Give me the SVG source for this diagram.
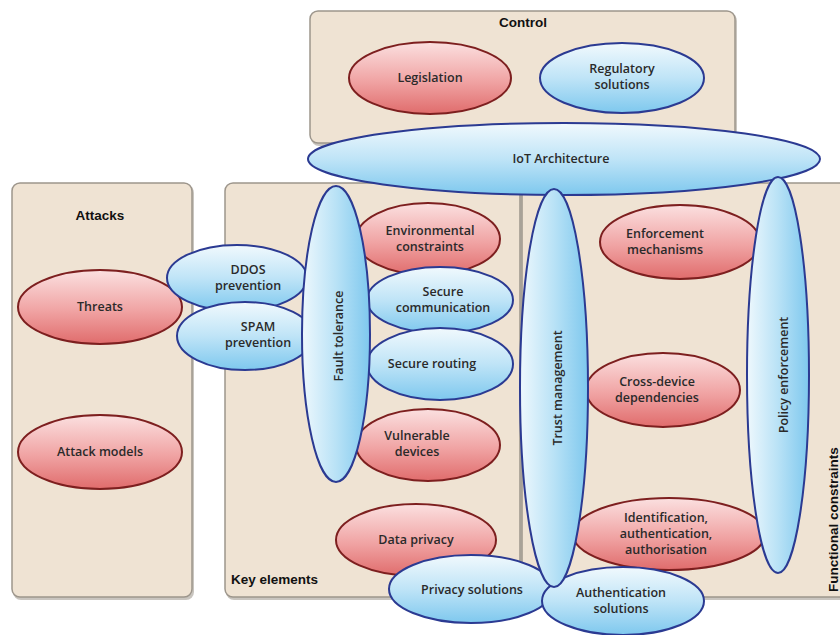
<svg xmlns="http://www.w3.org/2000/svg" width="840" height="635" viewBox="0 0 840 635">
<defs>
<linearGradient id="gRed" x1="0" y1="0" x2="0" y2="1">
<stop offset="0" stop-color="#fbe0e0"/>
<stop offset="0.55" stop-color="#f0a3a3"/>
<stop offset="1" stop-color="#e06c6c"/>
</linearGradient>
<linearGradient id="gBlue" x1="0" y1="0" x2="0" y2="1">
<stop offset="0" stop-color="#f1f9fd"/>
<stop offset="0.5" stop-color="#bfe4f7"/>
<stop offset="1" stop-color="#7ec8ee"/>
</linearGradient>
<linearGradient id="gBlueV" x1="0" y1="0" x2="1" y2="0">
<stop offset="0" stop-color="#eef8fd"/>
<stop offset="0.5" stop-color="#b9e2f6"/>
<stop offset="1" stop-color="#7ec8ee"/>
</linearGradient>
</defs>
<style>
.box{fill:#efe3d3;stroke:#9d968c;stroke-width:1.5}
.shadow{fill:#c9c5bf}
.red{fill:url(#gRed);stroke:#7d1f1f;stroke-width:2}
.blue{fill:url(#gBlue);stroke:#2b3a92;stroke-width:2}
.blueV{fill:url(#gBlueV);stroke:#2b3a92;stroke-width:2}
.t{font-family:"Open Sans","DejaVu Sans",sans-serif;font-size:12.5px;font-weight:600;fill:#2a2a2a;text-anchor:middle}
.h{font-family:"Liberation Sans",Arial,sans-serif;font-size:13.5px;font-weight:bold;fill:#111}
</style>
<rect width="840" height="635" fill="#ffffff"/>

<g id="boxes">
<g id="control-box">
<rect class="shadow" x="311" y="13" width="426" height="133" rx="8"/>
<rect class="box" x="310" y="11" width="425" height="132" rx="8"/>
<text class="h" x="523" y="27" text-anchor="middle">Control</text>
</g>
<g id="attacks-box">
<rect class="shadow" x="13" y="185" width="181" height="415" rx="8"/>
<rect class="box" x="12" y="183" width="180" height="414" rx="8"/>
<text class="h" x="100" y="220" text-anchor="middle">Attacks</text>
</g>
<g id="key-elements-box">
<rect class="shadow" x="226" y="185" width="296" height="415" rx="8"/>
<rect class="box" x="225" y="183" width="295" height="414" rx="8"/>
<text class="h" x="231" y="584">Key elements</text>
</g>
<g id="functional-box">
<rect class="shadow" x="523" y="185" width="330" height="415" rx="8"/>
<rect class="box" x="522" y="183" width="330" height="414" rx="8"/>
<text class="h" transform="translate(838,592) rotate(-90)">Functional constraints</text>
</g>
</g>

<g id="connectors"></g>

<g id="legislation"><ellipse class="red" cx="430" cy="78" rx="81" ry="36"/><text class="t" x="430" y="82">Legislation</text></g>
<g id="regulatory"><ellipse class="blue" cx="622" cy="78" rx="82" ry="35"/><text class="t" x="622" y="73">Regulatory</text><text class="t" x="622" y="89">solutions</text></g>
<g id="iot"><ellipse class="blue" cx="564" cy="159" rx="256" ry="36"/><text class="t" x="561" y="163">IoT Architecture</text></g>

<g id="threats"><ellipse class="red" cx="100" cy="307" rx="82" ry="37"/><text class="t" x="100" y="311">Threats</text></g>
<g id="attack-models"><ellipse class="red" cx="100" cy="452" rx="82" ry="37"/><text class="t" x="100" y="456">Attack models</text></g>
<g id="ddos"><ellipse class="blue" cx="237" cy="278" rx="70" ry="33"/><text class="t" x="248" y="274">DDOS</text><text class="t" x="248" y="290">prevention</text></g>
<g id="spam"><ellipse class="blue" cx="245" cy="336" rx="68" ry="34"/><text class="t" x="258" y="331">SPAM</text><text class="t" x="258" y="347">prevention</text></g>

<g id="environmental"><ellipse class="red" cx="428" cy="239" rx="72" ry="36"/><text class="t" x="430" y="235">Environmental</text><text class="t" x="430" y="251">constraints</text></g>
<g id="secure-comm"><ellipse class="blue" cx="440" cy="300" rx="73" ry="33"/><text class="t" x="443" y="296">Secure</text><text class="t" x="443" y="312">communication</text></g>
<g id="secure-routing"><ellipse class="blue" cx="440" cy="364" rx="73" ry="36"/><text class="t" x="432" y="368">Secure routing</text></g>
<g id="vulnerable"><ellipse class="red" cx="428" cy="445" rx="72" ry="36"/><text class="t" x="417" y="440">Vulnerable</text><text class="t" x="417" y="456">devices</text></g>
<g id="data-privacy"><ellipse class="red" cx="416" cy="540" rx="80" ry="36"/><text class="t" x="416" y="544">Data privacy</text></g>
<g id="fault-tolerance"><ellipse class="blueV" cx="336" cy="334" rx="34" ry="148"/><text class="t" transform="translate(338,336) rotate(-90)" dy="4.5">Fault tolerance</text></g>

<g id="enforcement"><ellipse class="red" cx="680" cy="242" rx="80" ry="37"/><text class="t" x="665" y="238">Enforcement</text><text class="t" x="665" y="254">mechanisms</text></g>
<g id="cross-device"><ellipse class="red" cx="663" cy="390" rx="77" ry="37"/><text class="t" x="657" y="386">Cross-device</text><text class="t" x="657" y="402">dependencies</text></g>
<g id="identification"><ellipse class="red" cx="669" cy="534" rx="96" ry="36"/><text class="t" x="666" y="522">Identification,</text><text class="t" x="666" y="538">authentication,</text><text class="t" x="666" y="554">authorisation</text></g>
<g id="policy"><ellipse class="blueV" cx="778" cy="375" rx="31" ry="198"/><text class="t" transform="translate(783,375) rotate(-90)" dy="4.5">Policy enforcement</text></g>

<g id="privacy-solutions"><ellipse class="blue" cx="471" cy="589" rx="82" ry="34"/><text class="t" x="472" y="594">Privacy solutions</text></g>
<g id="authentication-solutions"><ellipse class="blue" cx="623" cy="601" rx="81" ry="34"/><text class="t" x="621" y="597">Authentication</text><text class="t" x="621" y="613">solutions</text></g>
<g id="trust"><ellipse class="blueV" cx="554" cy="388" rx="34" ry="199"/><text class="t" transform="translate(557,388) rotate(-90)" dy="4.5">Trust management</text></g>
</svg>
